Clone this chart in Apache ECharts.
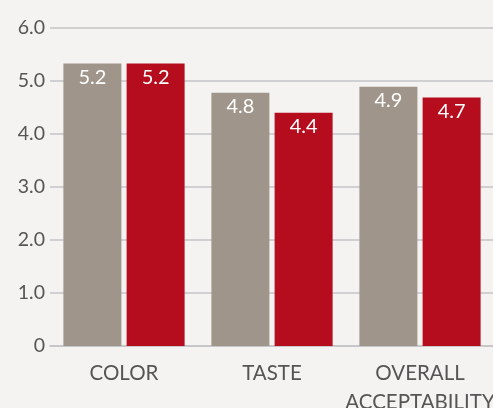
<!DOCTYPE html>
<html><head><meta charset="utf-8">
<script src="https://cdn.jsdelivr.net/npm/echarts@6/dist/echarts.min.js"></script>
<style>html,body{margin:0;padding:0;background:#f4f3f1}#c{width:493px;height:408px}</style>
</head><body><div id="c"></div>
<script>
const categories = ['COLOR', 'TASTE', 'OVERALL\nACCEPTABILITY'];
const seriesA = [5.33, 4.78, 4.89];
const seriesB = [5.33, 4.40, 4.69];
const labelsA = ['5.2', '4.8', '4.9'];
const labelsB = ['5.2', '4.4', '4.7'];
const yTicks = [0, 1, 2, 3, 4, 5, 6];

const font = 'Lato, "Open Sans", sans-serif';
const chart = echarts.init(document.getElementById('c'));
function lbl(arr){
  return {show:true, position:'insideTop', distance:4, color:'#ffffff', fontSize:20, fontFamily:font,
    formatter: p => arr[p.dataIndex]};
}
chart.setOption({
  backgroundColor:'#f4f3f1',
  animation:false,
  grid:{left:50, right:-1, top:28, bottom:62, containLabel:false, outerBoundsMode:'none'},
  xAxis:{type:'category', data:categories,
    axisLine:{show:true, lineStyle:{color:'#c4c4c8', width:1.5}}, axisTick:{show:false},
    axisLabel:{color:'#555555', fontSize:20.5, fontFamily:font, margin:13, lineHeight:29, interval:0}},
  yAxis:{type:'value', min:yTicks[0], max:yTicks[yTicks.length-1], interval:1,
    axisLine:{show:false}, axisTick:{show:false},
    splitLine:{lineStyle:{color:'#c4c4c8', width:1.5}},
    axisLabel:{color:'#555555', fontSize:19.5, fontFamily:font, margin:5,
      formatter: v => v === 0 ? '0' : v.toFixed(1)}},
  series:[
    {type:'bar', data:seriesA, barWidth:58, barGap:'9%', itemStyle:{color:'#a0958a'}, label:lbl(labelsA)},
    {type:'bar', data:seriesB, barWidth:58, itemStyle:{color:'#b50d1d'}, label:lbl(labelsB)}
  ]
});
</script></body></html>
